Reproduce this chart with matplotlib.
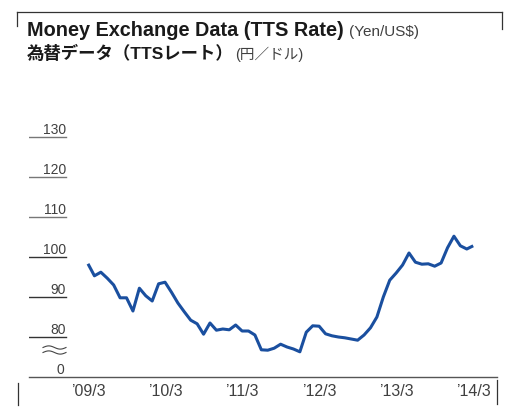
import matplotlib
matplotlib.use('Agg')
import matplotlib.pyplot as plt
from matplotlib.lines import Line2D
import matplotlib.transforms as mtransforms
import numpy as np

# ---- data (monthly, Mar 2009 .. Mar 2014) ----
month_idx = list(range(61))
rate = [98.3, 95.3, 96.2, 94.7, 93.0, 89.8, 89.8, 86.5, 92.2, 90.3,
        89.0, 93.3, 93.7, 91.2, 88.5, 86.3, 84.2, 83.3, 80.7, 83.5,
        81.7, 82.0, 81.8, 83.0, 81.5, 81.5, 80.5, 76.8, 76.7, 77.2,
        78.2, 77.5, 77.0, 76.3, 81.2, 82.8, 82.7, 80.8, 80.3, 80.0,
        79.8, 79.5, 79.2, 80.5, 82.3, 85.0, 90.0, 94.2, 96.0, 98.0,
        101.0, 98.7, 98.2, 98.3, 97.7, 98.5, 102.3, 105.2, 102.8, 102.0,
        102.8]
xtick_pos = [0, 12, 24, 36, 48, 60]
xtick_labels = ["\u201909/3", "\u201910/3", "\u201911/3", "\u201912/3", "\u201913/3", "\u201914/3"]
ytick_vals = [80, 90, 100, 110, 120, 130]
ytick_labels = ["80", "90", "100", "110", "120", "130"]
base_label = "0"

W, H = 505, 410
fig = plt.figure(figsize=(W / 100, H / 100), dpi=100)


def fx(px):
    return px / W


def fy(py):
    return 1 - py / H


LATIN = 'Liberation Sans'
TXT = '#404040'
BLUE = '#1a4f9f'

ax = fig.add_axes([fx(29), fy(378), fx(497) - fx(29), fy(130) - fy(378)])
ax.plot(month_idx, rate, color=BLUE, lw=2.2, solid_joinstyle='round',
        solid_capstyle='butt')
ax.set_xlim((29 - 88) / 6.42, (497 - 88) / 6.42)
ax.set_ylim(70, 132)

for s in ['left', 'right', 'top']:
    ax.spines[s].set_visible(False)
ax.spines['bottom'].set_color('#555555')
ax.spines['bottom'].set_linewidth(1.0)
ax.set_yticks([])
ax.set_xticks(xtick_pos)
ax.set_xticklabels(xtick_labels, fontfamily=LATIN, fontsize=11.5, color=TXT)
ax.tick_params(axis='x', length=0, pad=4)

# y "ticks": short rules with labels above them
xmax_frac = (66 - 29) / (497 - 29)
blend = mtransforms.blended_transform_factory(ax.transAxes, ax.transData)
lab_tr = mtransforms.offset_copy(blend, fig=fig, x=0, y=4, units='dots')
for v, lab in zip(ytick_vals, ytick_labels):
    col = '#777777' if v > 100 else '#333333'
    ax.axhline(v, xmin=0, xmax=xmax_frac, color=col, lw=1.0)
    ax.text(xmax_frac, v, lab, transform=lab_tr, ha='right', va='baseline',
            fontfamily=LATIN, fontsize=10, color=TXT)
ax.text(xmax_frac - 0.004, 70, base_label, transform=lab_tr, ha='right', va='baseline',
        fontfamily=LATIN, fontsize=10, color=TXT)

# break mark (two tildes)
t = np.linspace(0, 2 * np.pi, 60)
xs = 43 + (66 - 43) * t / (2 * np.pi)
for yc in (348.5, 353.5):
    ys = yc - 1.6 * np.sin(t)
    fig.add_artist(Line2D(fx(xs), fy(ys), color='#444444', lw=0.8,
                          transform=fig.transFigure))

# frame brackets
frame = dict(color='#333333', lw=0.9, transform=fig.transFigure)
fig.add_artist(Line2D([fx(16.5), fx(501.5)], [fy(13), fy(13)], **frame))
fig.add_artist(Line2D([fx(16.5), fx(16.5)], [fy(13), fy(27)], **frame))
fig.add_artist(Line2D([fx(501.5), fx(501.5)], [fy(13), fy(30)], **frame))
fig.add_artist(Line2D([fx(18), fx(18)], [fy(384), fy(406)], **frame))
fig.add_artist(Line2D([fx(497), fx(497)], [fy(381), fy(405)], **frame))

# titles
renderer = fig.canvas.get_renderer()


def seq_text(parts, x0, ybase):
    x = x0
    for s, kw, gap in parts:
        t = fig.text(fx(x), fy(ybase), s, va='baseline', ha='left', **kw)
        bb = t.get_window_extent(renderer=renderer)
        x = x + bb.width + gap


seq_text([
    ("Money Exchange Data (TTS Rate)",
     dict(fontfamily=LATIN, fontweight='bold', fontsize=14.3, color='#1a1a1a'), 5),
    ("(Yen/US$)", dict(fontfamily=LATIN, fontsize=11, color=TXT), 0),
], 27, 36)

seq_text([
    ("為替データ（TTSレート）",
     dict(fontfamily=[LATIN, 'Noto Sans CJK JP'], fontweight='bold', fontsize=12.5,
          color='#1a1a1a'), 1),
    ("(円／ドル)", dict(fontfamily=[LATIN, 'Noto Sans CJK JP'], fontsize=10.5, color=TXT), 0),
], 27, 59)

fig.savefig('out.png', dpi=100)
